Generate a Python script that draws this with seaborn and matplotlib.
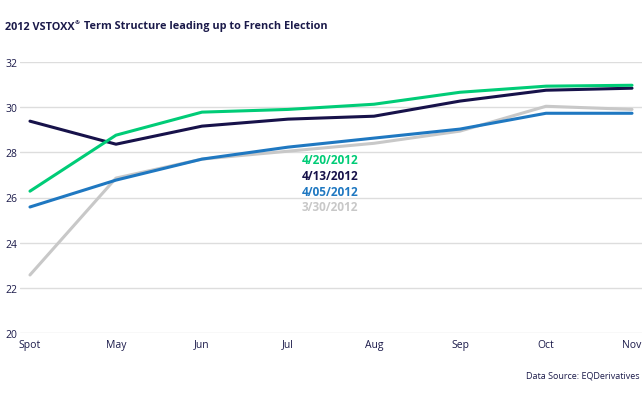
import matplotlib
matplotlib.use("Agg")
import matplotlib.pyplot as plt
import seaborn as sns
import pandas as pd

months = ["Spot", "May", "Jun", "Jul", "Aug", "Sep", "Oct", "Nov"]
s_0420 = [26.28, 28.76, 29.78, 29.90, 30.13, 30.66, 30.93, 30.97]
s_0413 = [29.38, 28.36, 29.16, 29.47, 29.60, 30.27, 30.75, 30.84]
s_0405 = [25.58, 26.77, 27.70, 28.23, 28.63, 29.03, 29.73, 29.73]
s_0330 = [22.57, 26.86, 27.70, 28.05, 28.40, 28.94, 30.04, 29.90]
series_names = ["3/30/2012", "4/05/2012", "4/13/2012", "4/20/2012"]
series_vals = [s_0330, s_0405, s_0413, s_0420]
colors = {"4/20/2012": "#00cc77", "4/13/2012": "#17124a",
          "4/05/2012": "#1f78c1", "3/30/2012": "#c8c8c8"}
yticks = [20, 22, 24, 26, 28, 30, 32]

rows = []
for name, vals in zip(series_names, series_vals):
    for i, (m, v) in enumerate(zip(months, vals)):
        rows.append({"pos": i, "month": m, "value": v, "series": name})
df = pd.DataFrame(rows)

sns.set_theme(style="white")
plt.rcParams["font.family"] = ["Open Sans", "DejaVu Sans"]
navy = "#1b1a4a"

fig = plt.figure(figsize=(6.43, 4.02), dpi=100)
ax = fig.add_axes([20/643, 1 - 334/402, 622/643, (334 - 63)/402])
sns.lineplot(data=df, x="pos", y="value", hue="series", palette=colors,
             hue_order=series_names, linewidth=2.2, ax=ax, legend=False)

ax.set_xlim(-0.116, 7.116)
ax.set_ylim(20, 32)
ax.set_yticks(yticks)
ax.set_xticks(range(len(months)))
ax.set_xticklabels(months)
ax.grid(axis="y", color="#dddddd", linewidth=1)
ax.set_axisbelow(True)
for sp in ax.spines.values():
    sp.set_visible(False)
ax.tick_params(axis="both", length=0, labelsize=7.5, labelcolor=navy)
ax.tick_params(axis="y", pad=2)
ax.tick_params(axis="x", pad=4)
ax.set_xlabel("")
ax.set_ylabel("")

# inline legend labels
label_order = ["4/20/2012", "4/13/2012", "4/05/2012", "3/30/2012"]
for k, name in enumerate(label_order):
    fig.text(302/643, 1 - (161 + k * 15.5)/402, name, color=colors[name],
             fontsize=8.5, fontweight="bold", va="center", ha="left")

# title in pieces (small superscript registered mark)
renderer = fig.canvas.get_renderer()
ty = 1 - 27/402
t1 = fig.text(5/643, ty, "2012 VSTOXX", color=navy, fontsize=7.8,
              fontweight="bold", va="center", ha="left")
w1 = t1.get_window_extent(renderer).x1
t2 = fig.text(w1 / 643 + 0.5/643, ty + 4/402, "®", color=navy, fontsize=4.5,
              fontweight="bold", va="center", ha="left")
w2 = t2.get_window_extent(renderer).x1
fig.text(w2 / 643 + 0.5/643, ty, " Term Structure leading up to French Election",
         color=navy, fontsize=7.8, fontweight="bold", va="center", ha="left")

fig.text(640/643, 1 - 376/402, "Data Source: EQDerivatives", color=navy,
         fontsize=6.5, va="center", ha="right")

fig.savefig("out.png", dpi=100)
